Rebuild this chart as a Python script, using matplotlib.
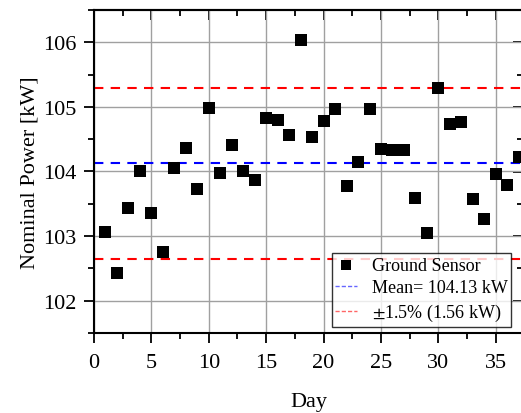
import numpy as np
import matplotlib
matplotlib.use("Agg")
import matplotlib.pyplot as plt
from matplotlib.ticker import MultipleLocator, NullFormatter

plt.rcParams['font.family'] = ['Liberation Serif', 'DejaVu Serif']
plt.rcParams['mathtext.fontset'] = 'stix'

# daily nominal power readings from the ground sensor
days = np.arange(1, 38)
power = [103.06, 102.43, 103.44, 104.00, 103.36, 102.75, 104.06, 104.37, 103.73, 104.98,
         103.97, 104.41, 104.01, 103.87, 104.83, 104.80, 104.57, 106.03, 104.54, 104.78,
         104.96, 103.77, 104.14, 104.96, 104.35, 104.34, 104.33, 103.59, 103.05, 105.29,
         104.74, 104.77, 103.57, 103.27, 103.96, 103.79, 104.22]

mean_kw = 104.13
band_upper = 105.30
band_lower = 102.65

fig = plt.figure(figsize=(5.21, 4.14), dpi=100)
ax = fig.add_axes([94 / 521, 80 / 414, 429 / 521, 323 / 414])

dash = (0, (4.5, 3.5))
ax.scatter(days, power, marker='s', s=64, color='black', linewidths=0,
           zorder=3, label='Ground Sensor')
ax.axhline(mean_kw, color='blue', lw=1.5, ls=dash, zorder=2,
           label='Mean= %.2f kW' % mean_kw)
ax.axhline(band_upper, color='red', lw=1.5, ls=dash, zorder=2,
           label='$\\pm$1.5% (1.56 kW)')
ax.axhline(band_lower, color='red', lw=1.5, ls=dash, zorder=2)

ax.set_xlim(0, 37.37)
ax.set_ylim(101.5, 106.5)
ax.xaxis.set_major_locator(MultipleLocator(5))
ax.xaxis.set_minor_locator(MultipleLocator(2.5))
ax.yaxis.set_major_locator(MultipleLocator(1))
ax.yaxis.set_minor_locator(MultipleLocator(0.5))
ax.grid(True, which='major', color='#a0a0a0', lw=1.0, zorder=0)
ax.set_axisbelow(True)

for sp in ax.spines.values():
    sp.set_linewidth(1.5)
ax.tick_params(which='major', direction='out', length=7.5, width=1.3,
               labelsize=16, pad=5)
ax.tick_params(axis='x', which='major', pad=7)
ax.tick_params(which='minor', direction='out', length=4, width=1.3)

# inward ticks on the top and right edges, no labels
top = ax.secondary_xaxis('top')
right = ax.secondary_yaxis('right')
for sec, a, major, minor in ((top, top.xaxis, 5, 2.5), (right, right.yaxis, 1, 0.5)):
    a.set_major_locator(MultipleLocator(major))
    a.set_minor_locator(MultipleLocator(minor))
    a.set_major_formatter(NullFormatter())
    sec.tick_params(which='major', direction='in', length=7.5, width=1.3)
    sec.tick_params(which='minor', direction='in', length=4, width=1.3)
    for sp in sec.spines.values():
        sp.set_linewidth(1.5)

ax.set_xlabel('Day', fontsize=16, labelpad=14)
ax.set_ylabel('Nominal Power [kW]', fontsize=16, labelpad=3)

leg = ax.legend(loc='lower right', bbox_to_anchor=(0.972, 0.019), borderaxespad=0,
                fontsize=13, frameon=True, fancybox=False, handlelength=1.2,
                handletextpad=0.8, labelspacing=0.32, borderpad=0.2, scatterpoints=1,
                markerscale=0.85)
leg.get_frame().set_edgecolor('black')
leg.get_frame().set_linewidth(1.0)
for line in leg.get_lines():
    line.set_linewidth(1.0)
    line.set_dashes((3, 1.5))
    line.set_alpha(0.6)

fig.savefig('out.png', dpi=100)
